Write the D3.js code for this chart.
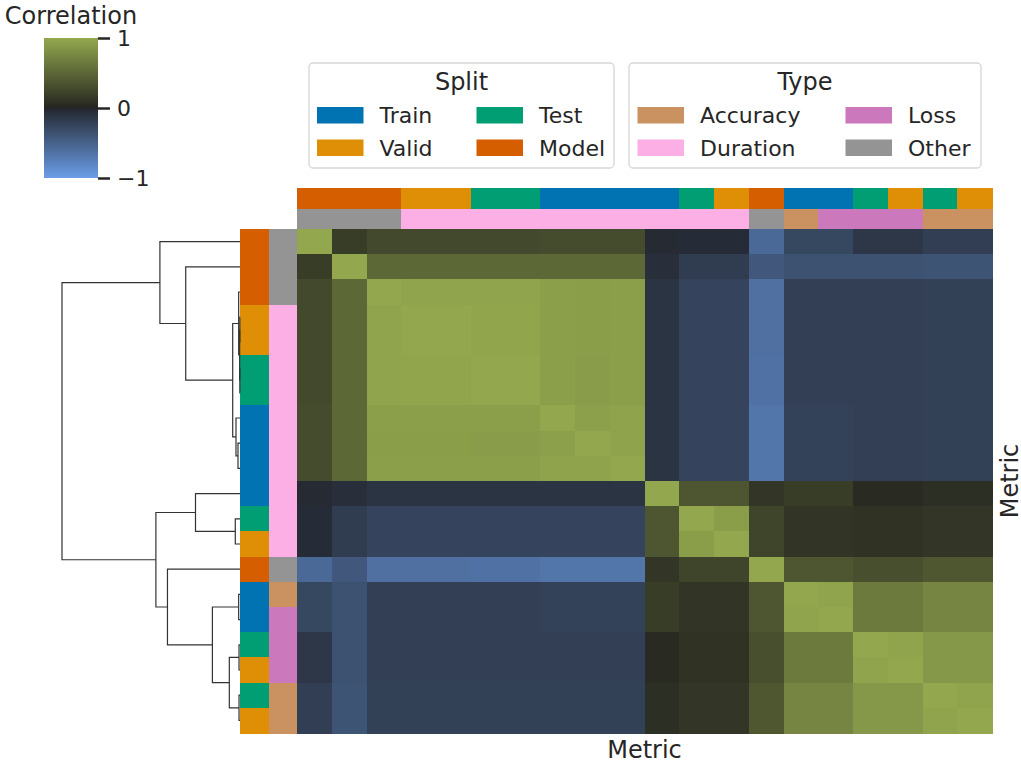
<!DOCTYPE html>
<html>
<head>
<meta charset="utf-8">
<script src="https://cdn.jsdelivr.net/npm/d3@7"></script>
<style>
	body { margin: 0; background: #fff; }
	text { font-family: "DejaVu Sans", sans-serif; fill: #262626; }
</style>
</head>
<body>
<script>
// leaf order (rows and columns share it)
const leafSplit = ["Model", "Model", "Model", "Valid", "Valid", "Test", "Test", "Train", "Train", "Train",
	"Train", "Test", "Valid", "Model", "Train", "Train", "Test", "Valid", "Test", "Valid"];
const leafType = ["Other", "Other", "Other", "Duration", "Duration", "Duration", "Duration", "Duration", "Duration", "Duration",
	"Duration", "Duration", "Duration", "Other", "Accuracy", "Loss", "Loss", "Loss", "Accuracy", "Accuracy"];

const splitLabels = ["Train", "Valid", "Test", "Model"];
const splitColors = ["#0173b2", "#de8f05", "#029e73", "#d55e00"];
const typeLabels = ["Accuracy", "Duration", "Loss", "Other"];
const typeColors = ["#ca9161", "#fbafe4", "#cc78bc", "#949494"];

// correlation matrix in leaf order
const corr = [
	[ 1.00, 0.18, 0.27, 0.27, 0.27, 0.27, 0.27, 0.29, 0.29, 0.29,-0.03,-0.05,-0.05,-0.56,-0.27,-0.27,-0.14,-0.14,-0.20,-0.20],
	[ 0.18, 1.00, 0.51, 0.51, 0.51, 0.51, 0.51, 0.51, 0.51, 0.51,-0.07,-0.18,-0.18,-0.42,-0.36,-0.36,-0.36,-0.36,-0.38,-0.38],
	[ 0.27, 0.51, 1.00, 0.97, 0.97, 0.97, 0.97, 0.93, 0.92, 0.93,-0.11,-0.25,-0.25,-0.62,-0.21,-0.21,-0.21,-0.21,-0.22,-0.22],
	[ 0.27, 0.51, 0.97, 1.00, 0.99, 0.98, 0.98, 0.93, 0.92, 0.93,-0.11,-0.25,-0.25,-0.62,-0.21,-0.21,-0.21,-0.21,-0.22,-0.22],
	[ 0.27, 0.51, 0.97, 0.99, 1.00, 0.98, 0.98, 0.93, 0.92, 0.93,-0.11,-0.25,-0.25,-0.62,-0.21,-0.21,-0.21,-0.21,-0.22,-0.22],
	[ 0.27, 0.51, 0.97, 0.98, 0.98, 1.00, 0.99, 0.93, 0.91, 0.93,-0.11,-0.25,-0.25,-0.63,-0.21,-0.21,-0.21,-0.21,-0.22,-0.22],
	[ 0.27, 0.51, 0.97, 0.98, 0.98, 0.99, 1.00, 0.93, 0.91, 0.93,-0.11,-0.25,-0.25,-0.63,-0.21,-0.21,-0.21,-0.21,-0.22,-0.22],
	[ 0.29, 0.51, 0.93, 0.93, 0.93, 0.93, 0.93, 1.00, 0.94, 0.96,-0.11,-0.25,-0.25,-0.67,-0.23,-0.23,-0.21,-0.21,-0.22,-0.22],
	[ 0.29, 0.51, 0.92, 0.92, 0.92, 0.91, 0.91, 0.94, 1.00, 0.96,-0.11,-0.25,-0.25,-0.67,-0.23,-0.23,-0.21,-0.21,-0.22,-0.22],
	[ 0.29, 0.51, 0.93, 0.93, 0.93, 0.93, 0.93, 0.96, 0.96, 1.00,-0.11,-0.25,-0.25,-0.67,-0.23,-0.23,-0.21,-0.21,-0.22,-0.22],
	[-0.03,-0.07,-0.11,-0.11,-0.11,-0.11,-0.11,-0.11,-0.11,-0.11, 1.00, 0.37, 0.37, 0.13, 0.18, 0.18, 0.04, 0.04, 0.07, 0.07],
	[-0.05,-0.18,-0.25,-0.25,-0.25,-0.25,-0.25,-0.25,-0.25,-0.25, 0.37, 1.00, 0.92, 0.24, 0.12, 0.12, 0.10, 0.10, 0.13, 0.13],
	[-0.05,-0.18,-0.25,-0.25,-0.25,-0.25,-0.25,-0.25,-0.25,-0.25, 0.37, 0.92, 1.00, 0.24, 0.12, 0.12, 0.10, 0.10, 0.13, 0.13],
	[-0.56,-0.42,-0.62,-0.62,-0.62,-0.63,-0.63,-0.67,-0.67,-0.67, 0.13, 0.24, 0.24, 1.00, 0.37, 0.37, 0.32, 0.32, 0.38, 0.38],
	[-0.27,-0.36,-0.21,-0.21,-0.21,-0.21,-0.21,-0.23,-0.23,-0.23, 0.18, 0.12, 0.12, 0.37, 1.00, 0.97, 0.65, 0.65, 0.74, 0.74],
	[-0.27,-0.36,-0.21,-0.21,-0.21,-0.21,-0.21,-0.23,-0.23,-0.23, 0.18, 0.12, 0.12, 0.37, 0.97, 1.00, 0.65, 0.65, 0.74, 0.74],
	[-0.14,-0.36,-0.21,-0.21,-0.21,-0.21,-0.21,-0.21,-0.21,-0.21, 0.04, 0.10, 0.10, 0.32, 0.65, 0.65, 1.00, 0.97, 0.87, 0.87],
	[-0.14,-0.36,-0.21,-0.21,-0.21,-0.21,-0.21,-0.21,-0.21,-0.21, 0.04, 0.10, 0.10, 0.32, 0.65, 0.65, 0.97, 1.00, 0.87, 0.87],
	[-0.20,-0.38,-0.22,-0.22,-0.22,-0.22,-0.22,-0.22,-0.22,-0.22, 0.07, 0.13, 0.13, 0.38, 0.74, 0.74, 0.87, 0.87, 1.00, 0.97],
	[-0.20,-0.38,-0.22,-0.22,-0.22,-0.22,-0.22,-0.22,-0.22,-0.22, 0.07, 0.13, 0.13, 0.38, 0.74, 0.74, 0.87, 0.87, 0.97, 1.00]
];

// row linkage: [childA, childB, height]; ids >= 20 are earlier merges
const linkage = [
	[3, 4, 0.004], [5, 6, 0.004], [20, 21, 0.008], [2, 22, 0.03],
	[8, 9, 0.045], [7, 24, 0.09], [23, 25, 0.164], [1, 26, 1.22],
	[0, 27, 1.80], [11, 12, 0.106], [10, 29, 1.0], [14, 15, 0.03],
	[16, 17, 0.022], [18, 19, 0.022], [32, 33, 0.24], [31, 34, 0.62],
	[13, 35, 1.63], [30, 36, 1.89], [28, 37, 4.0]
];

const cbTicks = [-1, 0, 1];

const w = 1021, h = 764, n = corr.length;

const svg = d3.select("body")
	.append("svg")
	.attr("width", w)
	.attr("height", h);

const xScale = d3.scaleBand().domain(d3.range(n)).range([297, 992]),
	yScale = d3.scaleBand().domain(d3.range(n)).range([229, 733]),
	stripX = d3.scaleBand().domain(["Split", "Type"]).range([240, 297]),
	stripY = d3.scaleBand().domain(["Split", "Type"]).range([188, 229]),
	splitColor = d3.scaleOrdinal().domain(splitLabels).range(splitColors),
	typeColor = d3.scaleOrdinal().domain(typeLabels).range(typeColors),
	color = d3.scaleLinear()
		.domain([-1, -0.004, 0, 0.004, 1])
		.range(["#6b9de8", "#23272e", "#222222", "#252620", "#93a84e"])
		.clamp(true);

// heatmap cells
const cells = [];
corr.forEach((row, i) => row.forEach((v, j) => cells.push({ i, j, v })));

svg.append("g")
	.attr("shape-rendering", "crispEdges")
	.selectAll("rect")
	.data(cells)
	.enter()
	.append("rect")
	.attr("x", d => xScale(d.j))
	.attr("y", d => yScale(d.i))
	.attr("width", xScale.bandwidth() + 0.5)
	.attr("height", yScale.bandwidth() + 0.5)
	.attr("fill", d => color(d.v));

// row colour strips
const strips = [];
d3.range(n).forEach(i => {
	strips.push({ i, key: "Split", fill: splitColor(leafSplit[i]) });
	strips.push({ i, key: "Type", fill: typeColor(leafType[i]) });
});

const stripG = svg.append("g").attr("shape-rendering", "crispEdges");

stripG.selectAll("rect.rowStrip")
	.data(strips)
	.enter()
	.append("rect")
	.attr("class", "rowStrip")
	.attr("x", d => stripX(d.key))
	.attr("y", d => yScale(d.i))
	.attr("width", stripX.bandwidth())
	.attr("height", yScale.bandwidth() + 0.5)
	.attr("fill", d => d.fill);

stripG.selectAll("rect.colStrip")
	.data(strips)
	.enter()
	.append("rect")
	.attr("class", "colStrip")
	.attr("x", d => xScale(d.i))
	.attr("y", d => stripY(d.key))
	.attr("width", xScale.bandwidth() + 0.5)
	.attr("height", stripY.bandwidth())
	.attr("fill", d => d.fill);

// row dendrogram
const hScale = d3.scaleLinear().domain([0, 4]).range([240, 62]);
const nodes = d3.range(n).map(i => ({ y: yScale(i) + yScale.bandwidth() / 2, h: 0 }));
linkage.forEach(([a, b, ht]) => {
	nodes.push({ y: (nodes[a].y + nodes[b].y) / 2, h: ht, a, b });
});

svg.append("g")
	.selectAll("path")
	.data(nodes.filter(d => d.a !== undefined))
	.enter()
	.append("path")
	.attr("fill", "none")
	.attr("stroke", "#333")
	.attr("stroke-width", 1.2)
	.attr("d", d => {
		const A = nodes[d.a], B = nodes[d.b];
		return "M" + hScale(A.h) + "," + A.y + "H" + hScale(d.h) + "V" + B.y + "H" + hScale(B.h);
	});

// axis labels
svg.append("text")
	.attr("x", (xScale.range()[0] + xScale.range()[1]) / 2)
	.attr("y", 758)
	.attr("text-anchor", "middle")
	.style("font-size", "24px")
	.text("Metric");

svg.append("text")
	.attr("transform", "translate(1018," + ((yScale.range()[0] + yScale.range()[1]) / 2) + ") rotate(-90)")
	.attr("text-anchor", "middle")
	.style("font-size", "24px")
	.text("Metric");

// colour bar
const cbY = d3.scaleLinear().domain([-1, 1]).range([178, 38]);
const grad = svg.append("defs")
	.append("linearGradient")
	.attr("id", "cbGrad")
	.attr("x1", 0).attr("y1", 1).attr("x2", 0).attr("y2", 0);

grad.selectAll("stop")
	.data(d3.range(-1, 1.0001, 0.01))
	.enter()
	.append("stop")
	.attr("offset", d => (d + 1) / 2)
	.attr("stop-color", d => color(d));

svg.append("rect")
	.attr("x", 44)
	.attr("y", cbY(1))
	.attr("width", 54)
	.attr("height", cbY(-1) - cbY(1))
	.attr("fill", "url(#cbGrad)");

const cbAxis = svg.append("g")
	.attr("transform", "translate(98,0)")
	.call(d3.axisRight(cbY).tickValues(cbTicks).tickSize(12).tickPadding(7).tickFormat(d3.format("d")));

cbAxis.select(".domain").remove();
cbAxis.selectAll("line").attr("stroke", "#262626").attr("stroke-width", 2.5);
cbAxis.selectAll("text")
	.attr("fill", "#262626")
	.style("font-size", "22px")
	.style("font-family", "DejaVu Sans");

svg.append("text")
	.attr("x", 71)
	.attr("y", 24)
	.attr("text-anchor", "middle")
	.style("font-size", "24px")
	.text("Correlation");

// legends
const drawLegend = (x0, x1, title, labels, colors, colX) => {
	const g = svg.append("g");
	g.append("rect")
		.attr("x", x0)
		.attr("y", 63)
		.attr("width", x1 - x0)
		.attr("height", 105)
		.attr("rx", 4)
		.attr("fill", "#fff")
		.attr("stroke", "#d6d6d6")
		.attr("stroke-width", 1.3);
	g.append("text")
		.attr("x", (x0 + x1) / 2)
		.attr("y", 90)
		.attr("text-anchor", "middle")
		.style("font-size", "24px")
		.text(title);
	labels.forEach((lab, k) => {
		const cx = colX[Math.floor(k / 2)], cy = 115 + (k % 2) * 32.5;
		g.append("rect")
			.attr("x", cx)
			.attr("y", cy - 8)
			.attr("width", 46.5)
			.attr("height", 16.5)
			.attr("fill", colors[k]);
		g.append("text")
			.attr("x", cx + 62.5)
			.attr("y", cy + 8)
			.style("font-size", "22px")
			.text(lab);
	});
};

drawLegend(309, 614, "Split", splitLabels, splitColors, [317, 476.5]);
drawLegend(629, 981, "Type", typeLabels, typeColors, [637.5, 845.5]);
</script>
</body>
</html>
